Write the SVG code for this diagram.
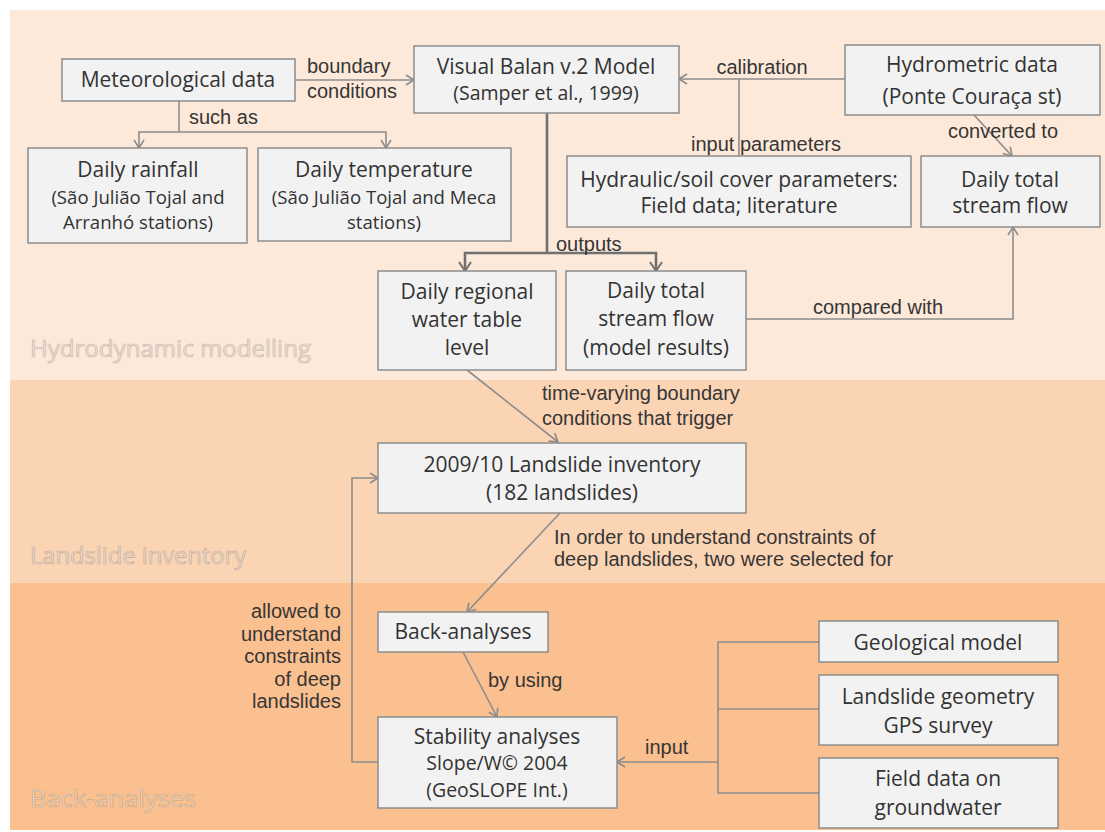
<svg xmlns="http://www.w3.org/2000/svg" width="1105" height="832" viewBox="0 0 1105 832">
<style>
.box{fill:#F2F2F2;stroke:#8C8C8C;stroke-width:1.5}
.t{font-family:"Open Sans","Liberation Sans",sans-serif;font-size:21px;fill:#333333;text-anchor:middle}
.s{font-size:19.5px}
.s2{font-size:18.6px}
.lbl{font-family:"Liberation Sans",Arial,sans-serif;font-size:20px;fill:#363636}
.al{text-anchor:end}
.band{font-family:"Open Sans","Liberation Sans",sans-serif;font-size:23px;stroke-width:0.7}
.c{fill:none;stroke:#8C8C8C;stroke-width:1.6}
.ck{fill:none;stroke:#707070;stroke-width:2.6}
</style>
<defs>
<marker id="ah" markerWidth="12" markerHeight="12" refX="9" refY="6" orient="auto" markerUnits="userSpaceOnUse">
<path d="M1,1 L9,6 L1,11" fill="none" stroke="#8C8C8C" stroke-width="1.6"/>
</marker>
<marker id="ahk" markerWidth="14" markerHeight="14" refX="10" refY="7" orient="auto" markerUnits="userSpaceOnUse">
<path d="M1,1 L10,7 L1,13" fill="none" stroke="#707070" stroke-width="2"/>
</marker>
</defs>
<rect x="0" y="0" width="1105" height="832" fill="#FFFFFF"/>
<g id="bands">
<rect x="10" y="10" width="1095" height="370" fill="#FDE9D9"/>
<rect x="10" y="380" width="1095" height="203" fill="#FBD4B4"/>
<rect x="10" y="583" width="1095" height="247" fill="#FAC08F"/>
<text class="band" x="30" y="357" fill="#EDE1D8" stroke="#CDBBAE" textLength="281" lengthAdjust="spacingAndGlyphs">Hydrodynamic modelling</text>
<text class="band" x="30" y="564" fill="#EADCD2" stroke="#C9AD98" textLength="216" lengthAdjust="spacingAndGlyphs">Landslide inventory</text>
<text class="band" x="30" y="807" fill="#EED6C3" stroke="#CFA886" textLength="166" lengthAdjust="spacingAndGlyphs">Back-analyses</text>
</g>
<g id="connectors">
<path class="c" d="M295,80 H414" marker-end="url(#ah)"/>
<path class="c" d="M179,101 V132"/>
<path class="c" d="M179,132 H139 V148" marker-end="url(#ah)"/>
<path class="c" d="M179,132 H386 V148" marker-end="url(#ah)"/>
<path class="c" d="M845,79 H679" marker-end="url(#ah)"/>
<path class="c" d="M739,79 V156"/>
<path class="c" d="M974,115 L1012,156" marker-end="url(#ah)"/>
<path class="ck" d="M547,113 V253"/>
<path class="ck" d="M547,253 H465 V271" marker-end="url(#ahk)"/>
<path class="ck" d="M547,253 H656 V271" marker-end="url(#ahk)"/>
<path class="c" d="M746,319 H1013 V227" marker-end="url(#ah)"/>
<path class="c" d="M467,370 L558,442" marker-end="url(#ah)"/>
<path class="c" d="M560,513 L467,612" marker-end="url(#ah)"/>
<path class="c" d="M463,652 L497,717" marker-end="url(#ah)"/>
<path class="c" d="M378,762 H352 V478 H378" marker-end="url(#ah)"/>
<path class="c" d="M819,642 H718 V793 H819"/>
<path class="c" d="M718,709 H819"/>
<path class="c" d="M718,762 H617" marker-end="url(#ah)"/>
<text class="lbl" x="307" y="73">boundary</text>
<text class="lbl" x="307" y="98">conditions</text>
<text class="lbl" x="189" y="124">such as</text>
<text class="lbl" x="762" y="74" text-anchor="middle">calibration</text>
<text class="lbl" x="766" y="151" text-anchor="middle">input parameters</text>
<text class="lbl" x="1003" y="138" text-anchor="middle">converted to</text>
<text class="lbl" x="556" y="251">outputs</text>
<text class="lbl" x="878" y="314" text-anchor="middle">compared with</text>
<text class="lbl" x="542" y="400">time-varying boundary</text>
<text class="lbl" x="542" y="425">conditions that trigger</text>
<text class="lbl" x="554" y="544">In order to understand constraints of</text>
<text class="lbl" x="554" y="566">deep landslides, two were selected for</text>
<text class="lbl" x="488" y="687">by using</text>
<text class="lbl" x="645" y="754">input</text>
<text class="lbl al" x="341" y="618">allowed to</text>
<text class="lbl al" x="341" y="640.5">understand</text>
<text class="lbl al" x="341" y="663">constraints</text>
<text class="lbl al" x="341" y="685.5">of deep</text>
<text class="lbl al" x="341" y="708">landslides</text>
</g>
<g id="met">
<rect class="box" x="62" y="59" width="233" height="42"/>
<text class="t" x="178" y="87">Meteorological  data</text>
</g>
<g id="balan">
<rect class="box" x="414" y="46" width="265" height="67"/>
<text class="t" x="546" y="74">Visual Balan v.2 Model</text>
<text class="t s" x="546" y="100">(Samper et al., 1999)</text>
</g>
<g id="hydrometric">
<rect class="box" x="845" y="45" width="255" height="70"/>
<text class="t" x="972" y="72">Hydrometric data</text>
<text class="t" x="972" y="104">(Ponte Couraça st)</text>
</g>
<g id="rainfall">
<rect class="box" x="28" y="148" width="219" height="95"/>
<text class="t" x="138" y="177">Daily  rainfall</text>
<text class="t s2" x="138" y="203.5">(São Julião Tojal and</text>
<text class="t s2" x="138" y="229">Arranhó stations)</text>
</g>
<g id="temperature">
<rect class="box" x="258" y="148" width="253" height="93"/>
<text class="t" x="384" y="177">Daily temperature</text>
<text class="t s2" x="384" y="203.5">(São Julião Tojal and Meca</text>
<text class="t s2" x="384" y="229">stations)</text>
</g>
<g id="hydraulic">
<rect class="box" x="567" y="156" width="344" height="71"/>
<text class="t" x="739" y="187">Hydraulic/soil cover parameters:</text>
<text class="t" x="739" y="213">Field data; literature</text>
</g>
<g id="streamflow">
<rect class="box" x="921" y="156" width="179" height="71"/>
<text class="t" x="1010" y="187">Daily total</text>
<text class="t" x="1010" y="213">stream flow</text>
</g>
<g id="watertable">
<rect class="box" x="378" y="271" width="178" height="99"/>
<text class="t" x="467" y="299">Daily regional</text>
<text class="t" x="467" y="327">water table</text>
<text class="t" x="467" y="355">level</text>
</g>
<g id="modelresults">
<rect class="box" x="566" y="271" width="180" height="99"/>
<text class="t" x="656" y="298">Daily total</text>
<text class="t" x="656" y="326">stream flow</text>
<text class="t" x="656" y="355">(model results)</text>
</g>
<g id="inventory">
<rect class="box" x="378" y="443" width="368" height="70"/>
<text class="t" x="562" y="472">2009/10 Landslide inventory</text>
<text class="t" x="562" y="500">(182 landslides)</text>
</g>
<g id="backanalyses">
<rect class="box" x="378" y="612" width="170" height="40"/>
<text class="t" x="463" y="639">Back-analyses</text>
</g>
<g id="stability">
<rect class="box" x="378" y="717" width="239" height="91"/>
<text class="t" x="497" y="744">Stability analyses</text>
<text class="t s" x="497" y="770">Slope/W© 2004</text>
<text class="t s" x="497" y="797">(GeoSLOPE Int.)</text>
</g>
<g id="geological">
<rect class="box" x="819" y="621" width="239" height="41"/>
<text class="t" x="938" y="650">Geological model</text>
</g>
<g id="geometry">
<rect class="box" x="819" y="675" width="239" height="70"/>
<text class="t" x="938" y="704">Landslide geometry</text>
<text class="t" x="938" y="733">GPS survey</text>
</g>
<g id="groundwater">
<rect class="box" x="819" y="758" width="239" height="70"/>
<text class="t" x="938" y="786">Field data on</text>
<text class="t" x="938" y="815">groundwater</text>
</g>
</svg>
